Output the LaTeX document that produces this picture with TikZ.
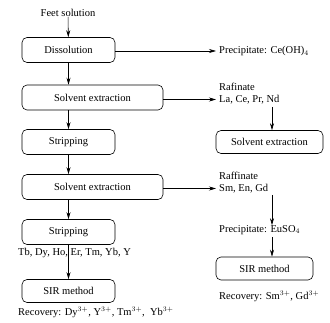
\documentclass[tikz,border=0pt]{standalone}
\usepackage{fontspec}
\setmainfont{Liberation Serif}
\usetikzlibrary{arrows.meta}
\begin{document}
\begin{tikzpicture}[x=1pt,y=-1pt,
  font=\fontsize{10.5}{12}\selectfont,
  proc/.style={draw,rounded corners=5pt,line width=0.6pt,inner sep=0pt},
  lbl/.style={inner sep=0pt,anchor=west},
  arr/.style={line width=0.6pt,-{Stealth[length=7pt,width=4pt]}}]
\useasboundingbox (0,0) rectangle (330,323);
% left column
\node[inner sep=0pt] (feet) at (68,13) {Feet solution};
\node[proc,minimum width=93pt,minimum height=25pt] (diss) at (68.5,50) {Dissolution};
\node[proc,minimum width=141pt,minimum height=25pt] (se1) at (92.5,97.5) {Solvent extraction};
\node[proc,minimum width=93pt,minimum height=25pt] (strip1) at (68.5,142) {Stripping};
\node[proc,minimum width=141pt,minimum height=25pt] (se2) at (92.5,187) {Solvent extraction};
\node[proc,minimum width=93pt,minimum height=25pt] (strip2) at (68.5,232) {Stripping};
\node[lbl] (tb) at (18,253) {Tb, Dy, Ho, Er, Tm, Yb, Y};
\node[proc,minimum width=93pt,minimum height=23pt] (sir1) at (68.5,291) {SIR method};
\node[lbl] (rec1) at (18,312) {Recovery: Dy$^{3+}$, Y$^{3+}$, Tm$^{3+}$, \ Yb$^{3+}$};
% right column
\node[lbl] (ppt1) at (219,51) {Precipitate: Ce(OH)$_4$};
\node[lbl] (raf1a) at (219,87) {Rafinate};
\node[lbl] (raf1b) at (219,99.5) {La, Ce, Pr, Nd};
\node[proc,minimum width=107pt,minimum height=23pt] (se3) at (269.5,142) {Solvent extraction};
\node[lbl] (raf2a) at (219,176) {Raffinate};
\node[lbl] (raf2b) at (219,188.5) {Sm, En, Gd};
\node[lbl] (ppt2) at (219,230) {Precipitate: EuSO$_4$};
\node[proc,minimum width=97pt,minimum height=23pt] (sir2) at (264.5,268.5) {SIR method};
\node[lbl] (rec2) at (219,296) {Recovery: Sm$^{3+}$, Gd$^{3+}$};
% main vertical arrows
\draw[arr] (feet) -- (diss);
\draw[arr] (diss) -- (diss |- se1.north);
\draw[arr] (diss |- se1.south) -- (strip1);
\draw[arr] (strip1) -- (strip1 |- se2.north);
\draw[arr] (strip1 |- se2.south) -- (strip2);
\draw[arr] (strip2) -- (sir1);
% horizontal arrows
\draw[arr] (diss.east |- ppt1.west) -- ([xshift=-3pt]ppt1.west);
\draw[arr] (se1.east |- raf1b.west) -- ([xshift=-3pt]raf1b.west);
\draw[arr] (se2.east |- raf2b.west) -- ([xshift=-3pt]raf2b.west);
% right vertical arrows
\coordinate (c1) at (272,107);
\coordinate (c2) at (272,195);
\coordinate (c3) at (272,237);
\draw[arr] (c1) -- (c1 |- se3.north);
\draw[arr] (c2) -- (c2 |- ppt2.north);
\draw[arr] (c3) -- (c3 |- sir2.north);
\end{tikzpicture}
\end{document}
